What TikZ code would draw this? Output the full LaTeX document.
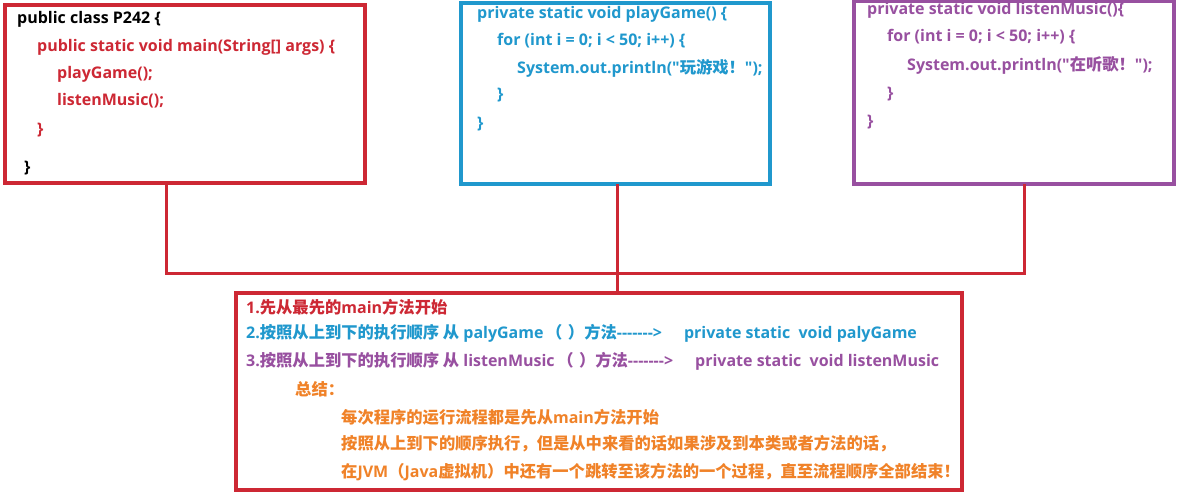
\documentclass[tikz,border=0pt]{standalone}
\usepackage{fontspec}
\setmainfont{Open Sans}[Ligatures=TeXOff,BoldFont={Open Sans Bold}]
\newfontfamily\cjkf{Noto Sans CJK SC}[Ligatures=TeXOff]
\newcommand\C[1]{{\cjkf\fontsize{16.3}{18}\selectfont\bfseries #1}}
\definecolor{cred}{RGB}{205,40,52}
\definecolor{cblue}{RGB}{32,152,205}
\definecolor{cpurple}{RGB}{152,80,160}
\definecolor{corange}{RGB}{240,130,40}
\begin{document}
\begin{tikzpicture}[x=1pt,y=1pt,
  box/.style={line width=3.2pt},
  conn/.style={draw=cred,line width=3pt},
  txt/.style={anchor=west,inner sep=0pt,font=\fontsize{16}{18}\selectfont\bfseries}]
\useasboundingbox (0,0) rectangle (1184,-495);
\fill[white] (0,0) rectangle (1184,-495);
% boxes
\draw[box,cred] (5,-5) rectangle (365,-183);
\draw[box,cblue] (461,-3) rectangle (770,-184);
\draw[box,cpurple] (854,-1) rectangle (1174,-184);
\draw[box,cred] (236,-293) rectangle (962,-490);
% anchors for connectors
\coordinate (b1) at (166,-183);
\coordinate (b2) at (617,-184);
\coordinate (b3) at (1024,-184);
\coordinate (j1) at (166,-273);
\coordinate (j3) at (1024,-273);
\coordinate (b4) at (617,-293);
\draw[conn] (b1) -- (j1) -- (j3) -- (b3);
\draw[conn] (b2) -- (b4);
% box 1
\node[txt,black] (a1) at (17,-19) {public class P242 \{};
\node[txt,cred] (a2) at (37,-47) {public static void main(String[] args) \{};
\node[txt,cred] (a3) at (57,-74) {playGame();};
\node[txt,cred] (a4) at (57,-101) {listenMusic();};
\node[txt,cred] (a5) at (37,-130) {\}};
\node[txt,black] (a6) at (24,-168) {\}};
% box 2
\node[txt,cblue] (p1) at (477,-14) {private static void playGame() \{};
\node[txt,cblue] (p2) at (497,-41) {for (int i = 0; i < 50; i++) \{};
\node[txt,cblue] (p3) at (517,-68) {System.out.println("\C{玩游戏！}");};
\node[txt,cblue] (p4) at (497,-95) {\}};
\node[txt,cblue] (p5) at (477,-124) {\}};
% box 3
\node[txt,cpurple] (m1) at (867,-10) {private static void listenMusic()\{};
\node[txt,cpurple] (m2) at (887,-37) {for (int i = 0; i < 50; i++) \{};
\node[txt,cpurple] (m3) at (907,-65) {System.out.println("\C{在听歌！}");};
\node[txt,cpurple] (m4) at (887,-94) {\}};
\node[txt,cpurple] (m5) at (867,-122) {\}};
% box 4
\node[txt,cred] (s1) at (246,-307) {1.\C{先从最先的}main\C{方法开始}};
\node[txt,cblue] (s2) at (246,-333) {2.\C{按照从上到下的执行顺序 从} palyGame\,\C{（\,\,）方法}------->\hspace{22pt}private static\ \ void palyGame};
\node[txt,cpurple] (s3) at (246,-361) {3.\C{按照从上到下的执行顺序 从} listenMusic\,\C{（\,\,）方法}------->\hspace{22pt}private static\ \ void listenMusic};
\node[txt,corange] (s4) at (295,-389) {\C{总结：}};
\node[txt,corange] (s5) at (341,-417) {\C{每次程序的运行流程都是先从}main\C{方法开始}};
\node[txt,corange] (s6) at (341,-444) {\C{按照从上到下的顺序执行，但是从中来看的话如果涉及到本类或者方法的话，}};
\node[txt,corange] (s7) at (341,-472) {\C{在}JVM\C{（}Java\C{虚拟机）中还有一个跳转至该方法的一个过程，直至流程顺序全部结束！}};
\end{tikzpicture}
\end{document}
